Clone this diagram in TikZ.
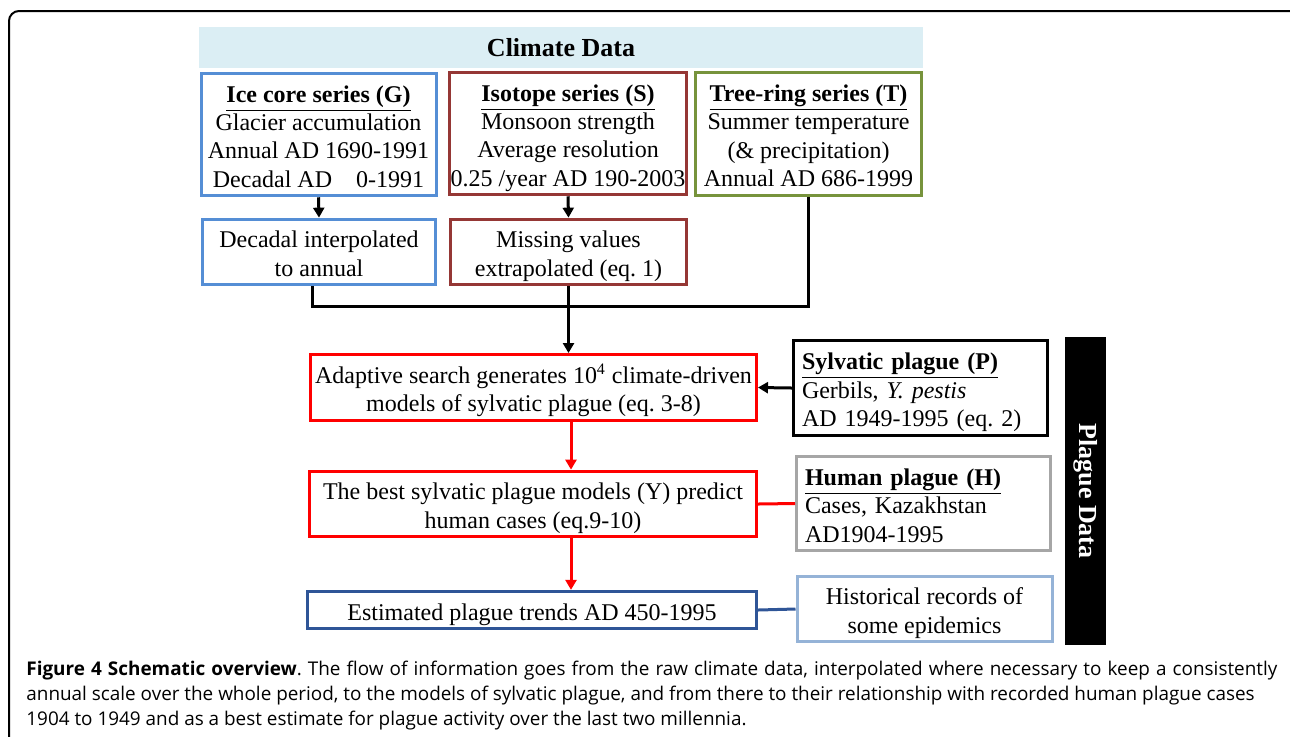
\documentclass[tikz,border=0pt]{standalone}
\usepackage{fontspec}
\setmainfont{Liberation Serif}
\newfontfamily\capfont{Open Sans}
\usetikzlibrary{arrows.meta,calc}
\definecolor{iceblue}{HTML}{558ED5}
\definecolor{isored}{HTML}{953735}
\definecolor{treegreen}{HTML}{77933C}
\definecolor{estblue}{HTML}{2F5597}
\definecolor{humgray}{HTML}{A6A6A6}
\definecolor{histblue}{HTML}{95B3D7}
\definecolor{hdrfill}{HTML}{DBEEF4}
\definecolor{boxred}{HTML}{FF0000}
\newcommand\tstr{\rule{0pt}{14.4pt}}
\frenchspacing
\begin{document}
\begin{tikzpicture}[x=0.5pt,y=-0.5pt,
  box/.style={draw, line width=1.5pt, inner sep=0pt, align=center, font=\fontsize{12}{14.2}\selectfont},
  leftbox/.style={box, align=left, inner xsep=4.25pt, text width=118.5pt},
  conn/.style={line width=1.5pt},
  arr/.style={conn, -{Triangle[length=5pt,width=5.5pt]}},
  captext/.style={anchor=base west, inner sep=0pt, font=\capfont\fontsize{9.45}{12.5}\selectfont},
]
\useasboundingbox (0,0) rectangle (1290,736);
\begin{scope}
\clip (0,0) rectangle (1290,736);
\draw[line width=1pt, rounded corners=5pt] (9,11) rectangle (1300,800);
\end{scope}

\node[fill=hdrfill, minimum width=362pt, minimum height=20.5pt, inner sep=0pt, font=\fontsize{13}{15}\selectfont\bfseries] (hdr) at (561,47.5) {Climate Data};

\node[box, draw=iceblue, minimum width=117.5pt, minimum height=60pt] (ice) at (318.5,134.5)
  {\tstr\underline{\textbf{Ice core series (G)}}\\Glacier accumulation\\Annual AD 1690-1991\\Decadal AD\hspace{1em}0-1991\strut};
\node[box, draw=isored, minimum width=118.5pt, minimum height=60pt] (iso) at (568,133.5)
  {\tstr\underline{\textbf{Isotope series (S)}}\\Monsoon strength\\Average resolution\\0.25 /year AD 190-2003\strut};
\node[box, draw=treegreen, minimum width=113pt, minimum height=60.5pt] (tree) at (808.5,134)
  {\tstr\underline{\textbf{Tree-ring series (T)}}\\Summer temperature\\(\& precipitation)\\Annual AD 686-1999\strut};
\node[box, draw=iceblue, minimum width=116.5pt, minimum height=32.5pt] (decadal) at (319,252)
  {\tstr Decadal interpolated\\to annual\strut};
\node[box, draw=isored, minimum width=118pt, minimum height=32.5pt] (missing) at (568.5,252)
  {\tstr Missing values\\extrapolated (eq. 1)\strut};
\node[box, draw=boxred, minimum width=223pt, minimum height=33pt] (adaptive) at (533.5,387.5)
  {\tstr Adaptive search generates 10\textsuperscript{4} climate-driven\\models of sylvatic plague (eq. 3-8)\strut};
\node[box, draw=boxred, minimum width=223.5pt, minimum height=32.5pt] (best) at (533,504)
  {\tstr The best sylvatic plague models (Y) predict\\human cases (eq.9-10)\strut};
\node[box, draw=estblue, minimum width=224.5pt, minimum height=18.5pt] (est) at (532,610)
  {\tstr Estimated plague trends AD 450-1995\strut};
\node[leftbox, draw=black, minimum height=46pt] (sylv) at (920.5,388)
  {\tstr\underline{\textbf{Sylvatic plague (P)}}\\Gerbils, \textit{Y. pestis}\\AD 1949-1995 (eq. 2)\strut};
\node[leftbox, draw=humgray, minimum height=45.5pt] (human) at (923.5,503.5)
  {\tstr\underline{\textbf{Human plague (H)}}\\Cases, Kazakhstan\\AD1904-1995\strut};
\node[box, draw=histblue, minimum width=127.5pt, minimum height=31pt] (hist) at (924.5,609)
  {\tstr Historical records of\\some epidemics\strut};
\node[fill=black, text=white, rotate=-90, minimum width=154pt, minimum height=20.5pt, inner sep=0pt, font=\fontsize{13}{15}\selectfont\bfseries] (bar) at (1085.5,491) {Plague Data};

\coordinate (jL) at (312,306);
\coordinate (jR) at (808,306);
\coordinate (ax) at (571,0);
\draw[arr] (ice.south) -- (decadal.north);
\draw[arr] (iso.south) -- (missing.north);
\draw[conn] (decadal.south -| jL) -- (jL) -- (jR) -- (tree.south -| jR);
\draw[arr] (missing.south) -- (adaptive.north -| missing.south);
\draw[arr] (sylv.west) -- (adaptive.east);
\draw[arr, draw=boxred, fill=boxred] (adaptive.south -| ax) -- (best.north -| ax);
\draw[conn, draw=boxred] (best.east) -- (human.west);
\draw[arr, draw=boxred, fill=boxred] (best.south -| ax) -- (est.north -| ax);
\draw[conn, draw=estblue] (est.east) -- (hist.west);

\node[captext] (cap1) at (26,675) {\makebox[625.5pt][s]{\textbf{Figure 4 Schematic overview}. The flow of information goes from the raw climate data, interpolated where necessary to keep a consistently}};
\node[captext] (cap2) at (26,700) {annual scale over the whole period, to the models of sylvatic plague, and from there to their relationship with recorded human plague cases};
\node[captext] (cap3) at (26,725) {1904 to 1949 and as a best estimate for plague activity over the last two millennia.};
\end{tikzpicture}
\end{document}
